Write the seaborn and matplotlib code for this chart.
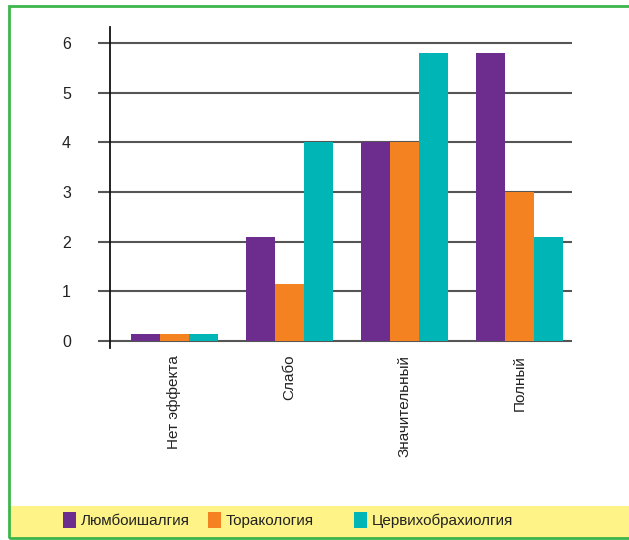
import matplotlib
matplotlib.use("Agg")
import matplotlib.pyplot as plt
import seaborn as sns
import pandas as pd
from matplotlib.patches import Rectangle

categories = ["Нет эффекта", "Слабо", "Значительный", "Полный"]
series_names = ["Люмбоишалгия", "Торакология", "Цервихобрахиолгия"]
lumbo = [0.14, 2.1, 4.0, 5.8]
torako = [0.14, 1.15, 4.0, 3.0]
cervix = [0.14, 4.0, 5.8, 2.1]
yticks = [0, 1, 2, 3, 4, 5, 6]
colors = ["#6d2d8e", "#f58220", "#00b5b5"]

rows = []
for name, vals in zip(series_names, [lumbo, torako, cervix]):
    for c, v in zip(categories, vals):
        rows.append({"cat": c, "series": name, "value": v})
df = pd.DataFrame(rows)

sns.set_style("white")
font = ["Liberation Sans", "DejaVu Sans"]
plt.rcParams["font.family"] = font

W, H = 629, 540
fig = plt.figure(figsize=(W / 100, H / 100), dpi=100)

def px(x0, y0, x1, y1):
    return [x0 / W, 1 - y1 / H, (x1 - x0) / W, (y1 - y0) / H]

ax = fig.add_axes(px(110, 27, 572, 348))
sns.barplot(data=df, x="cat", y="value", hue="series", order=categories,
            hue_order=series_names, palette=colors, width=0.76,
            saturation=1, ax=ax, legend=True, zorder=3,
            linewidth=0, edgecolor="none")
handles, labels = ax.get_legend_handles_labels()
ax.get_legend().remove()

ax.set_xlim(-0.56, 3.457)
ax.set_ylim(-0.14, 6.32)
ax.set_yticks(yticks)
ax.set_yticklabels([str(t) for t in yticks], fontsize=11.5, color="#222222")
ax.set_xticks(range(len(categories)))
ax.set_xticklabels(categories, rotation=90, fontsize=11, color="#222222")
ax.tick_params(axis="x", length=0, pad=5)
ax.tick_params(axis="y", length=0, pad=28)
ax.set_xlabel("")
ax.set_ylabel("")
for s in ["top", "right", "bottom"]:
    ax.spines[s].set_visible(False)
ax.spines["left"].set_color("#111111")
ax.spines["left"].set_linewidth(1.3)
ax.spines["left"].set_zorder(5)

for t in yticks:
    ax.plot([-0.56 - 12 / 115.0, 3.457], [t, t], color="#555555", lw=1.5,
            zorder=1, clip_on=False, solid_capstyle="butt")

fig.patches.append(Rectangle((10 / W, 1 - 538 / H), 1.0, 32 / H,
                             transform=fig.transFigure, facecolor="#fdf386",
                             edgecolor="none", zorder=0))
fig.patches.append(Rectangle((9 / W, 1 - 538 / H), 1.2, (538 - 6) / H,
                             transform=fig.transFigure, facecolor="none",
                             edgecolor="#3cb54a", lw=2, zorder=1))

xs = [63, 208, 354]
for hnd, lab, x in zip(handles, labels, xs):
    hnd.set_linewidth(0)
    leg = fig.legend([hnd], [lab], loc="center left",
                     bbox_to_anchor=(x / W, 1 - 520 / H), frameon=False,
                     fontsize=11, handlelength=0.85, handleheight=1.2,
                     handletextpad=0.3, borderaxespad=0, borderpad=0)
    for txt in leg.get_texts():
        txt.set_color("#222222")

fig.savefig("out.png", dpi=100)
